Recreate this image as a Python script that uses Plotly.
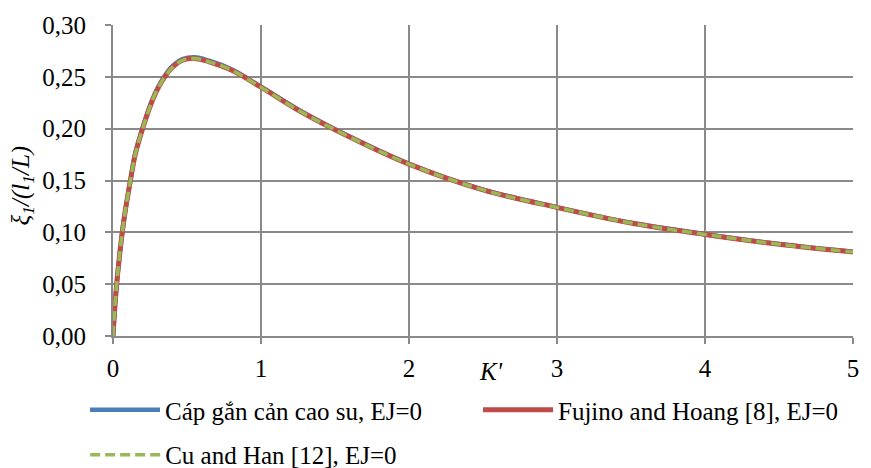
import plotly.graph_objects as go

# Dimensionless damper coefficient K'
k_prime = [0, 0.02, 0.05, 0.08, 0.12, 0.15, 0.20, 0.26, 0.30, 0.35, 0.40, 0.47, 0.55,
           0.65, 0.80, 1.00, 1.25, 1.50, 2.00, 2.50, 3.00, 3.50, 4.00, 4.50, 5.00]

# Normalised first-mode damping ratio xi_1/(l_1/L)
xi_rubber = [0, 0.042, 0.085, 0.118, 0.152, 0.176, 0.201, 0.226, 0.239, 0.251, 0.260, 0.267, 0.2688,
             0.2655, 0.2572, 0.2405, 0.2185, 0.1995, 0.1662, 0.1412, 0.1242, 0.1092, 0.0982, 0.0887, 0.0812]
xi_fujino = [0, 0.042, 0.085, 0.118, 0.152, 0.175, 0.200, 0.225, 0.238, 0.250, 0.259, 0.266, 0.2678,
             0.2645, 0.2565, 0.2400, 0.2180, 0.1990, 0.1658, 0.1410, 0.1240, 0.1090, 0.0980, 0.0885, 0.0810]
xi_cu_han = [0, 0.042, 0.085, 0.118, 0.152, 0.175, 0.200, 0.225, 0.238, 0.250, 0.259, 0.266, 0.2678,
             0.2645, 0.2565, 0.2400, 0.2180, 0.1990, 0.1658, 0.1410, 0.1240, 0.1090, 0.0980, 0.0885, 0.0810]

names = ["Cáp gắn cản cao su, EJ=0", "Fujino and Hoang [8], EJ=0", "Cu and Han [12], EJ=0"]

FONT = "Liberation Serif"
GRID = "#8a8a8a"
SIZE = 25

fig = go.Figure()
fig.add_trace(go.Scatter(x=k_prime, y=xi_rubber, name=names[0], mode="lines", legend="legend",
                         line=dict(color="#4a7ebb", width=4.5, shape="spline", smoothing=1)))
fig.add_trace(go.Scatter(x=k_prime, y=xi_fujino, name=names[1], mode="lines", legend="legend",
                         line=dict(color="#be4b48", width=5, shape="spline", smoothing=1)))
fig.add_trace(go.Scatter(x=k_prime, y=xi_cu_han, name=names[2], mode="lines", legend="legend2",
                         line=dict(color="#98b954", width=3.5, dash="10px,5px", shape="spline", smoothing=1)))

legend_common = dict(orientation="h", xanchor="left", itemwidth=70,
                     font=dict(family=FONT, size=SIZE), bgcolor="rgba(0,0,0,0)")

fig.update_layout(
    width=871, height=468,
    margin=dict(l=113, r=14, t=17, b=132),
    paper_bgcolor="white", plot_bgcolor="white",
    separators=", ",
    font=dict(family=FONT, size=SIZE, color="black"),
    showlegend=True,
    legend=dict(x=-0.0376, y=-0.238, yanchor="middle", entrywidth=308, entrywidthmode="pixels",
                **legend_common),
    legend2=dict(x=-0.0376, yref="container", y=0.028, yanchor="middle", **legend_common),
)
fig.update_xaxes(range=[0, 5], dtick=1, tick0=0, showgrid=True, gridcolor=GRID, gridwidth=2,
                 showline=True, linecolor=GRID, linewidth=2, ticks="outside", ticklen=6,
                 tickcolor=GRID, tickwidth=2, zeroline=False, ticklabelstandoff=3,
                 tickfont=dict(family=FONT, size=SIZE))
fig.update_yaxes(range=[0, 0.30], dtick=0.05, tick0=0, tickformat=".2f", showgrid=True,
                 gridcolor=GRID, gridwidth=2, showline=True, linecolor=GRID, linewidth=2,
                 ticks="outside", ticklen=6, tickcolor=GRID, tickwidth=2, zeroline=False,
                 ticklabelstandoff=14, tickfont=dict(family=FONT, size=SIZE))

fig.add_annotation(text="<i>K'</i>", xref="paper", yref="paper", x=0.511, y=-0.113,
                   xanchor="center", yanchor="middle", showarrow=False,
                   font=dict(family=FONT, size=SIZE))
fig.add_annotation(text="<i>ξ<sub>1</sub>/(l<sub>1</sub>/L)</i>", xref="paper", yref="paper",
                   x=-0.122, y=0.483, xanchor="center", yanchor="middle", textangle=-90,
                   showarrow=False, font=dict(family=FONT, size=SIZE))

fig.write_html("out.html")
